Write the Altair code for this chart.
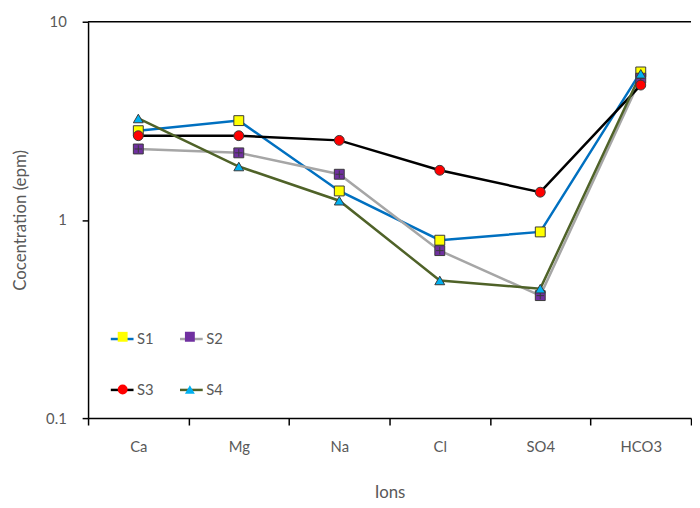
import altair as alt
import pandas as pd

ions = ["Ca", "Mg", "Na", "Cl", "SO4", "HCO3"]
series = ["S1", "S2", "S3", "S4"]
s1 = [2.82, 3.17, 1.40, 0.79, 0.87, 5.58]
s2 = [2.28, 2.18, 1.70, 0.70, 0.415, 5.19]
s3 = [2.66, 2.66, 2.52, 1.78, 1.38, 4.79]
s4 = [3.25, 1.86, 1.25, 0.495, 0.45, 5.46]
y_ticks = [0.1, 1, 10]

line_colors = ["#0070C0", "#A6A6A6", "#000000", "#4F6228"]
marker_fills = ["#FFFF00", "#7030A0", "#FF0000", "#00B0F0"]
marker_shapes = ["square", "M-1,-1H1V1H-1Z M0,-0.75V0.75 M-0.75,0H0.75", "circle", "triangle-up"]

rows = []
for name, vals in zip(series, [s1, s2, s3, s4]):
    for i, (ion, v) in enumerate(zip(ions, vals)):
        rows.append({"ion": ion, "idx": i, "series": name, "sample": name, "value": v})
df = pd.DataFrame(rows)

FONT = "Lato"
GREY = "#595959"

x_enc = alt.X(
    "ion:N", sort=ions, bandPosition=0.5,
    scale=alt.Scale(type="band", paddingInner=0, paddingOuter=0),
    axis=alt.Axis(title="Ions", labelAngle=0, tickBand="extent", tickSize=7,
                  labelPadding=15, titlePadding=30),
)
y_enc = alt.Y(
    "value:Q",
    scale=alt.Scale(type="log", domain=[0.1, 10]),
    axis=alt.Axis(title="Cocentration (epm)", values=y_ticks, format="~g",
                  tickSize=6, labelPadding=16, titlePadding=16),
)

base = alt.Chart(df)

leg_common = dict(title=None, orient="none", columns=2, direction="horizontal", padding=0,
                  labelFont=FONT, labelFontSize=15, labelColor=GREY)

line = base.mark_line(strokeWidth=2.5).encode(
    x=x_enc, y=y_enc,
    order=alt.Order("idx:Q"),
    stroke=alt.Stroke(
        "series:N", scale=alt.Scale(domain=series, range=line_colors),
        legend=alt.Legend(legendX=21.5, legendY=308, symbolType="stroke", symbolSize=529,
                          symbolStrokeWidth=2.5, labelOffset=2, columnPadding=21,
                          rowPadding=30.5, **leg_common),
    ),
)

leg2 = alt.Legend(legendX=27.5, legendY=311, symbolSize=100, symbolStrokeColor="#3a3a3a",
                  symbolStrokeWidth=1, labelOffset=0, columnPadding=53,
                  rowPadding=37.5, labelExpr="''", **leg_common)

points = base.mark_point(filled=True, size=100, stroke="#3a3a3a", strokeWidth=1, opacity=1).encode(
    x=x_enc, y=y_enc,
    fill=alt.Fill("sample:N", scale=alt.Scale(range=marker_fills), legend=leg2),
    shape=alt.Shape("sample:N", scale=alt.Scale(range=marker_shapes), legend=leg2),
)

top_rule = alt.Chart(pd.DataFrame({"v": [10]})).mark_rule(color="black", strokeWidth=1.5).encode(
    y=alt.Y("v:Q")
)

chart = (
    alt.layer(top_rule, line, points)
    .properties(width=610, height=401, padding={"left": 4, "top": 4, "right": 0, "bottom": 0})
    .configure_view(stroke=None)
    .configure_axis(
        grid=False, domainColor="black", domainWidth=1.5, tickColor="black", tickWidth=1.5,
        labelFont=FONT, labelFontSize=15, labelColor=GREY,
        titleFont=FONT, titleFontSize=17, titleColor=GREY, titleFontWeight="normal",
    )
)

chart.save("out.html", embed_options={"renderer": "svg", "actions": False})
